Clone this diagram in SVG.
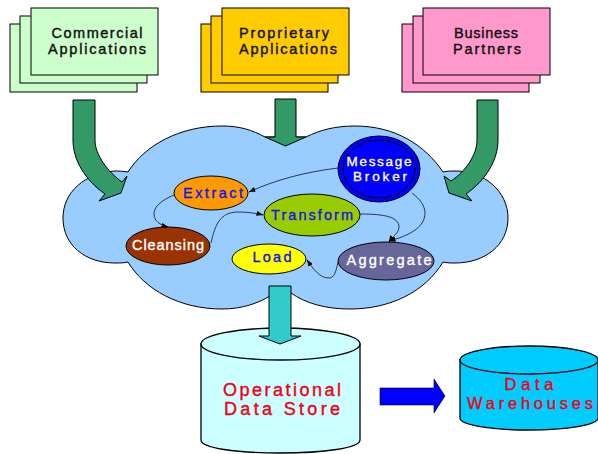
<svg xmlns="http://www.w3.org/2000/svg" width="598" height="454" viewBox="0 0 598 454">
<style>
text{font-family:"Liberation Sans",Arial,sans-serif;text-anchor:middle}
.s{stroke:#000;stroke-width:1}
.t{font-size:14.500px;fill:#111;stroke:#111;stroke-width:.4}
.e{font-size:14.500px;stroke-width:.35}
.m{font-size:13.500px}
.r{font-size:18px;fill:#f00016;stroke:#f00016;stroke-width:.4}
.d{font-size:16.500px}
.b{fill:#1414e6;stroke:#1414e6}.w{fill:#fff;stroke:#fff}
.g{fill:#339966;stroke:#000;stroke-width:1}
.c{fill:none;stroke:#111;stroke-width:.8;marker-end:url(#a)}
</style>
<defs>
<marker id="a" markerWidth="7" markerHeight="5" refX="6.500" refY="2.500" orient="auto" markerUnits="userSpaceOnUse"><path d="M0 0L7 2.500L0 5Z" fill="#000"/></marker>
</defs>
<g id="cloud"><path class="s" fill="#99ccff" d="M128 172C122 171 118 171 115 171C85 173 63 192 63 218C63 245 85 263 115 263C120 263 124 263 128 262C145 290 180 309 222 309C243 309 258 303 270 296L291 293C305 303 325 309 350 309C390 309 425 292 443 262C447 263 451 263 455 263C485 263 508 245 508 218C508 192 485 171 455 171C451 171 447 171 443 172C425 145 395 126 355 126C335 126 320 130 306 137L265 137C252 130 240 126 222 126C180 126 145 145 128 172Z"/></g>
<g id="commercial-applications">
<rect class="s" fill="#ccffcc" x="10" y="24" width="127" height="68"/><rect class="s" fill="#ccffcc" x="20" y="16" width="127" height="67"/><rect class="s" fill="#ccffcc" x="31" y="8" width="127" height="67"/>
<text class="t" x="97" y="38" textLength="91">Commercial</text><text class="t" x="97" y="54" textLength="98">Applications</text></g>
<g id="proprietary-applications">
<rect class="s" fill="#ffcc00" x="201" y="24" width="127" height="68"/><rect class="s" fill="#ffcc00" x="211" y="16" width="127" height="67"/><rect class="s" fill="#ffcc00" x="222" y="8" width="127" height="67"/>
<text class="t" x="284" y="38" textLength="90">Proprietary</text><text class="t" x="288" y="54" textLength="98">Applications</text></g>
<g id="business-partners">
<rect class="s" fill="#ff99cc" x="402" y="24" width="127" height="68"/><rect class="s" fill="#ff99cc" x="413" y="16" width="127" height="67"/><rect class="s" fill="#ff99cc" x="423" y="8" width="127" height="67"/>
<text class="t" x="486" y="38" textLength="64">Business</text><text class="t" x="487" y="54" textLength="68">Partners</text></g>
<g id="message-broker"><ellipse class="s" fill="#0000ff" cx="379" cy="169" rx="41" ry="33"/><ellipse class="s" fill="none" cx="379" cy="169" rx="36" ry="29"/>
<text class="e m w" x="379" y="166" textLength="65">Message</text><text class="e m w" x="380" y="181" textLength="54">Broker</text></g>
<g id="extract"><ellipse class="s" fill="#ff9900" cx="211" cy="193" rx="37" ry="17"/><text class="e b" x="213" y="198" textLength="60">Extract</text></g>
<g id="transform"><ellipse class="s" fill="#99cc00" cx="312" cy="215" rx="48" ry="21"/><text class="e b" x="312" y="220" textLength="82">Transform</text></g>
<g id="cleansing"><ellipse class="s" fill="#993300" cx="168" cy="246" rx="42" ry="19"/><text class="e w" x="168" y="250" textLength="72">Cleansing</text></g>
<g id="load"><ellipse class="s" fill="#ffff00" cx="269" cy="259" rx="37" ry="15"/><text class="e b" x="272" y="262" textLength="39">Load</text></g>
<g id="aggregate"><ellipse class="s" fill="#666699" cx="386" cy="261" rx="48" ry="19"/><text class="e w" x="389" y="265" textLength="85">Aggregate</text></g>
<g id="operational-data-store">
<path fill="#ccffff" stroke="#000" stroke-width="1.300" d="M201 344V440C201 448 236 453 280 453C324 453 360 448 360 440V344Z"/>
<ellipse fill="#ccffff" stroke="#000" stroke-width="1.300" cx="280.500" cy="344" rx="79.500" ry="16"/>
<text class="r" x="282" y="396" textLength="118">Operational</text><text class="r" x="282" y="415" textLength="116">Data Store</text></g>
<g id="data-warehouses">
<path fill="#00ccff" stroke="#000" stroke-width="1.300" d="M460 360V418C460 425 491 430 529 430C567 430 598 425 598 418V360Z"/>
<ellipse fill="#00ccff" stroke="#000" stroke-width="1.300" cx="529" cy="360" rx="69" ry="14"/>
<text class="r d" x="529" y="390" textLength="49">Data</text><text class="r d" x="530" y="409" textLength="126">Warehouses</text></g>
<g id="connectors">
<path class="g" d="M73 100H95V140C95 155 108 172 122 182L127 176L121 193L99 201L105 194C85 180 73 160 73 140Z"/>
<path class="g" d="M275 99H296V137H306L285.500 146L265 137H275Z"/>
<path class="g" d="M477 100H498V140C498 160 486 180 466 194L472 201L449 193L444 176L451 181C465 172 477 155 477 140Z"/>
<path class="c" d="M338 168C305 172 275 180 249 192"/>
<path class="c" d="M174 195C160 201 154 207 154 214C154 221 160 225 168 227"/>
<path class="c" d="M211 243C215 225 220 212 238 212C247 212 255 213 263 215"/>
<path class="c" d="M360 214C385 214 399 217 399 227C399 233 392 237 389 242"/>
<path class="c" d="M412 193C420 199 425 206 425 213C425 228 408 236 389 241"/>
<path class="c" d="M338 262C336 272 334 278 329 278C320 278 314 270 307 260"/>
<path fill="#33cccc" stroke="#000" d="M269 286H291V336H301L280 344L259 336H269Z"/>
<path fill="#0000ff" stroke="#000" stroke-width=".6" d="M380 388H434V379L445 396L434 413V405H380Z"/>
</g>
</svg>
